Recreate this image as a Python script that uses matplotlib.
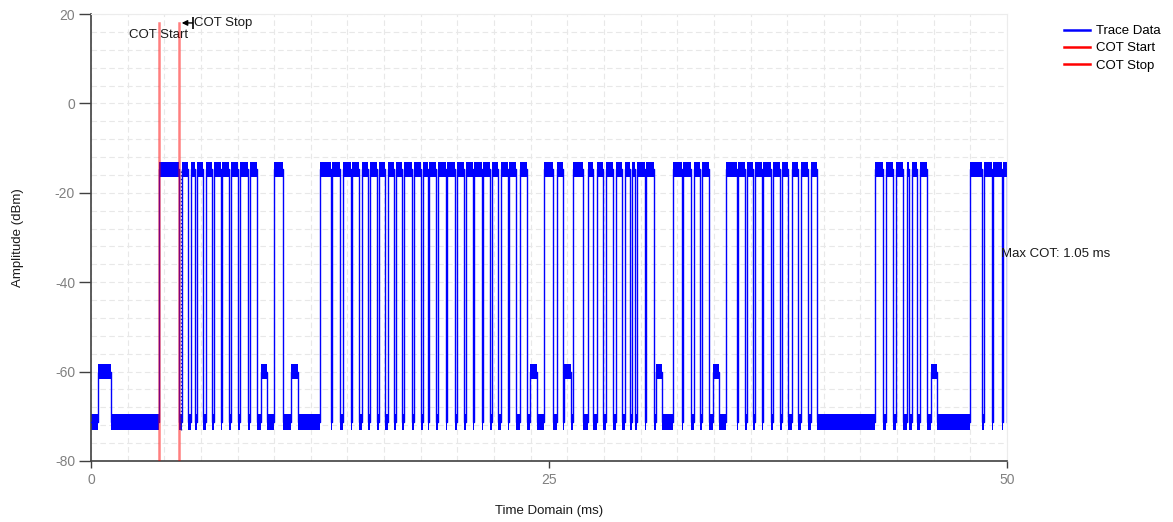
import matplotlib
matplotlib.use("Agg")
import matplotlib.pyplot as plt
import numpy as np
from matplotlib.lines import Line2D
from matplotlib.ticker import MultipleLocator

plt.rcParams['font.family'] = ['Liberation Sans', 'DejaVu Sans']
plt.rcParams['axes.unicode_minus'] = False

# signal levels (dBm) and noise half-width of each plateau
LOW_DBM, HIGH_DBM, MID_DBM = -71.2, -14.7, -60.0
SPREAD = {LOW_DBM: 1.8, HIGH_DBM: 1.7, MID_DBM: 1.7}

# transmission bursts (start, end) in ms
high_bursts_ms = [
    (3.73, 4.78),
    (4.98, 5.31), (5.46, 5.68), (5.77, 6.13), (6.26, 6.59), (6.70, 7.10),
    (7.17, 7.53), (7.64, 8.04), (8.15, 8.55), (8.68, 9.04),
    (10.01, 10.50),
    (12.50, 13.10), (13.15, 13.59), (13.77, 14.19), (14.24, 14.63),
    (14.78, 15.10), (15.23, 15.59), (15.72, 16.05), (16.19, 16.54),
    (16.65, 16.99), (17.10, 17.50), (17.63, 18.01), (18.10, 18.41),
    (18.46, 18.81), (18.96, 19.38), (19.45, 19.87), (19.96, 20.36),
    (20.45, 20.87), (20.92, 21.32), (21.41, 21.78), (21.87, 22.23),
    (22.38, 22.74), (22.83, 23.20), (23.40, 23.82),
    (24.74, 25.24), (25.42, 25.78), (26.33, 26.87), (27.12, 27.42),
    (27.62, 27.94), (28.10, 28.49), (28.65, 29.00), (29.13, 29.42),
    (29.53, 29.69), (29.83, 30.24), (30.30, 30.73),
    (31.79, 32.24), (32.29, 32.75), (32.93, 33.24), (33.37, 33.73),
    (34.64, 35.24), (35.33, 35.70), (35.79, 36.15), (36.24, 36.61),
    (36.70, 37.12), (37.24, 37.61), (37.70, 38.06), (38.24, 38.60),
    (38.76, 39.15), (39.28, 39.61),
    (42.79, 43.24), (43.39, 43.79), (43.92, 44.34), (44.52, 44.67),
    (44.80, 45.07), (45.25, 45.61),
    (47.98, 48.62), (48.75, 49.17), (49.26, 49.71), (49.80, 50.00),
]
mid_bursts_ms = [
    (0.40, 1.09), (9.26, 9.59), (10.92, 11.32), (23.96, 24.33),
    (25.84, 26.20), (30.83, 31.17), (33.97, 34.28), (45.85, 46.18),
]

T_END = 50.0
cot_start_ms = 3.73
cot_stop_ms = 4.78
cot_marker_top = 18.0
sweep_marker_ms = 4.91
max_cot_ms = 1.05

# build the step trace
events = sorted([(s, e, HIGH_DBM) for s, e in high_bursts_ms] +
                [(s, e, MID_DBM) for s, e in mid_bursts_ms])
t = [0.0]
lvl = [LOW_DBM]
for s, e, v in events:
    t += [s, e]
    lvl += [v, LOW_DBM]
if t[-1] < T_END:
    t.append(T_END)
    lvl.append(LOW_DBM)
t = np.array(t)
lvl = np.array(lvl)
spread = np.array([SPREAD[v] for v in lvl])

fig = plt.figure(figsize=(11.73, 5.22), dpi=100)
ax = fig.add_axes([91 / 1173, 1 - 461 / 522, 916 / 1173, 447 / 522])

blue = '#0000ff'
ax.fill_between(t, lvl - spread, lvl + spread, step='post', color=blue, lw=0, zorder=2)
ax.step(t, lvl, where='post', color=blue, lw=1.0, zorder=3)

# COT markers
for x in (cot_start_ms, cot_stop_ms):
    ax.plot([x, x], [-80, cot_marker_top], color='red', alpha=0.5, lw=1.8, zorder=4)
ax.plot([sweep_marker_ms, sweep_marker_ms], [-73, -15], ls=':', color='#2020a0', lw=1.0, zorder=4)

ax.text(2.07, 15.4, 'COT Start', fontsize=9.5, ha='left', va='center', color='#1a1a1a')
ax.annotate('', xy=(4.95, cot_marker_top), xytext=(5.55, cot_marker_top),
            arrowprops=dict(arrowstyle='-|>', color='black', lw=1.0,
                            mutation_scale=8, shrinkA=0, shrinkB=0))
ax.plot([5.55], [cot_marker_top], marker='|', ms=9, mew=1.2, color='black', clip_on=False)
ax.text(5.64, cot_marker_top, 'COT Stop', fontsize=9.5, ha='left', va='center', color='#1a1a1a')
ax.text(49.67, -33.7, f'Max COT: {max_cot_ms:.2f} ms', fontsize=9.5, ha='left', va='center',
        color='#1a1a1a', clip_on=False)

ax.set_xlim(0, 50)
ax.set_ylim(-80, 20)
ax.set_xticks([0, 25, 50])
ax.set_yticks(range(-80, 21, 20))
ax.xaxis.set_minor_locator(MultipleLocator(2))
ax.yaxis.set_minor_locator(MultipleLocator(4))
ax.xaxis.remove_overlapping_locs = False
ax.yaxis.remove_overlapping_locs = False
ax.grid(which='minor', color='#e8e8e8', ls='--', lw=0.8, dashes=(5, 3))
ax.grid(which='major', visible=False)
ax.set_axisbelow(True)
ax.tick_params(which='minor', length=0)
ax.tick_params(axis='y', which='major', length=8.5, width=1, color='#404040',
               labelsize=10, labelcolor='#808080', pad=3)
ax.tick_params(axis='x', which='major', length=5, width=1, color='#404040',
               labelsize=10, labelcolor='#808080', pad=4)

for side in ('left', 'bottom'):
    ax.spines[side].set_color('#404040')
    ax.spines[side].set_linewidth(1.2)
for side in ('top', 'right'):
    ax.spines[side].set_color('#ececec')
    ax.spines[side].set_linewidth(0.8)

ax.set_xlabel('Time Domain (ms)', fontsize=9.5, color='#1a1a1a')
ax.xaxis.set_label_coords(0.5, -0.098)
ax.xaxis.label.set_va('top')
ax.set_ylabel('Amplitude (dBm)', fontsize=9.5, color='#1a1a1a')
ax.yaxis.set_label_coords((24 - 91) / 916, 0.5)

handles = [Line2D([], [], color=blue, lw=1.8),
           Line2D([], [], color='red', lw=1.8),
           Line2D([], [], color='red', lw=1.8)]
fig.legend(handles, ['Trace Data', 'COT Start', 'COT Stop'], loc='upper left',
           bbox_to_anchor=(1064 / 1173, 1 - 25 / 522), frameon=False, borderpad=0,
           borderaxespad=0, handlelength=2.0, handletextpad=0.45, labelspacing=0.38,
           fontsize=9.5)

fig.savefig('out.png', dpi=100)
